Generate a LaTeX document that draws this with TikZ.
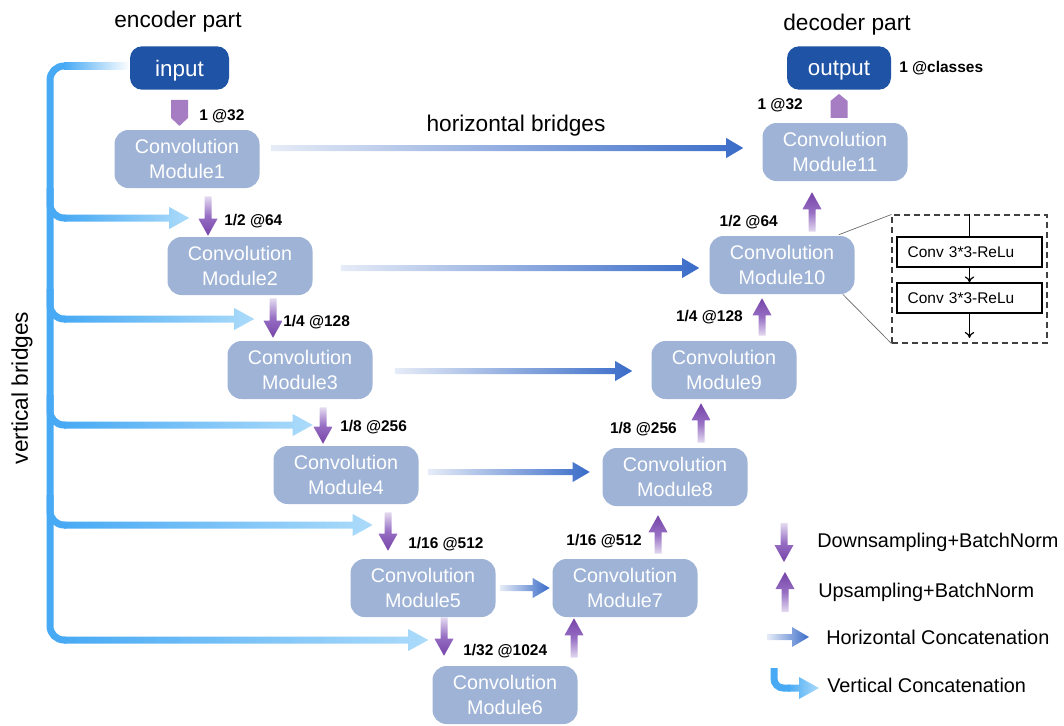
\documentclass[tikz,border=0pt]{standalone}
\usepackage{fontspec}
\setmainfont{Liberation Sans}
\usetikzlibrary{calc,arrows.meta}
\definecolor{modfill}{RGB}{158,179,214}
\definecolor{iofill}{RGB}{31,83,165}
\definecolor{pdark}{RGB}{118,68,168}
\definecolor{pmid}{RGB}{150,110,195}
\definecolor{plight}{RGB}{228,218,240}
\definecolor{pent}{RGB}{166,125,195}
\definecolor{hdark}{RGB}{58,108,200}
\definecolor{hlight}{RGB}{230,236,247}
\definecolor{vbc}{RGB}{72,170,244}
\definecolor{vblight}{RGB}{172,219,250}
% down arrow: #1 tail (top), #2 tip
\newcommand\arrDown[2]{\shade[top color=plight,bottom color=pdark,middle color=pmid]
 ($(#1)+(-3.5,0)$) -- ($(#2)+(-3.5,-17)$) -- ($(#2)+(-9.5,-17)$) -- (#2) --
 ($(#2)+(9.5,-17)$) -- ($(#2)+(3.5,-17)$) -- ($(#1)+(3.5,0)$) -- cycle;}
% up arrow: #1 tail (bottom), #2 tip
\newcommand\arrUp[2]{\shade[bottom color=plight,top color=pdark,middle color=pmid]
 ($(#1)+(-3.5,0)$) -- ($(#2)+(-3.5,17)$) -- ($(#2)+(-9.5,17)$) -- (#2) --
 ($(#2)+(9.5,17)$) -- ($(#2)+(3.5,17)$) -- ($(#1)+(3.5,0)$) -- cycle;}
% horizontal bridge: #1 tail, #2 tip
\newcommand\arrH[2]{\shade[left color=hlight,right color=hdark]
 ($(#1)+(0,-3)$) -- ($(#2)+(-17,-3)$) -- ($(#2)+(-17,-10)$) -- (#2) --
 ($(#2)+(-17,10)$) -- ($(#2)+(-17,3)$) -- ($(#1)+(0,3)$) -- cycle;}
% vertical bridge branch: #1 tail, #2 tip
\newcommand\arrV[2]{\shade[left color=vbc,right color=vblight]
 ($(#1)+(0,-3.5)$) -- ($(#2)+(-20,-3.5)$) -- ($(#2)+(-20,-11)$) -- (#2) --
 ($(#2)+(-20,11)$) -- ($(#2)+(-20,3.5)$) -- ($(#1)+(0,3.5)$) -- cycle;}
\tikzset{
 mod/.style={rectangle, rounded corners=10.5pt, fill=modfill, text=white,
   minimum width=108.75pt, minimum height=43.5pt, inner sep=0pt, align=center,
   font=\fontsize{14.8}{18.5}\selectfont},
 io/.style={rectangle, rounded corners=9pt, fill=iofill, text=white, text depth=0pt,
   minimum height=32.5pt, inner sep=0pt, font=\fontsize{16.8}{19}\selectfont},
 lab/.style={inner sep=0pt, font=\fontsize{11.6}{13}\selectfont\bfseries},
 legtext/.style={inner sep=0pt, anchor=west, font=\fontsize{14.9}{17}\selectfont},
 title/.style={inner sep=0pt, font=\fontsize{17}{20}\selectfont},
 vbline/.style={draw=vbc, line width=5.25pt},
 convbox/.style={draw, line width=0.8pt, minimum height=22.5pt, inner ysep=0pt,
   inner xsep=8pt, text width=92.75pt, align=left, font=\fontsize{11.6}{13}\selectfont},
 thinarr/.style={line width=0.9pt, -{To[length=4.5pt,width=7pt]}},
}
\begin{document}
\begin{tikzpicture}[x=0.75pt,y=-0.75pt]
\useasboundingbox (0,0) rectangle (1064,725);

% titles
\node[title, anchor=base] (enc) at (178,27) {encoder part};
\node[title, anchor=base] (dec) at (847,30) {decoder part};
\node[title, anchor=base] (hb) at (516,131) {horizontal bridges};
\node[title, rotate=90] (vbt) at (22,388) {vertical bridges};

% vertical bridges trunk
\coordinate (vtop) at (66,66);
\coordinate (vbot) at (50,640);
\coordinate (b5s) at (66,640);
\draw[vbline, rounded corners=10.5pt] (vtop) -| (vbot) -- (b5s);

% input / output
\node[io, minimum width=74.25pt] (input) at (179.5,68) {input};
\node[io, minimum width=78pt] (output) at (839,68) {output};
\shade[left color=vbc, right color=white] (64,62.5) rectangle (input.west |- 0,69.5);

% modules
\node[mod] (M1) at (187,159) {Convolution\\Module1};
\node[mod] (M2) at (240,266) {Convolution\\Module2};
\node[mod] (M3) at (300,370) {Convolution\\Module3};
\node[mod] (M4) at (346,475) {Convolution\\Module4};
\node[mod] (M5) at (423,588) {Convolution\\Module5};
\node[mod] (M6) at (505,695) {Convolution\\Module6};
\node[mod] (M7) at (625,588) {Convolution\\Module7};
\node[mod] (M8) at (675,477) {Convolution\\Module8};
\node[mod] (M9) at (724,370) {Convolution\\Module9};
\node[mod] (M10) at (782,265) {Convolution\\Module10};
\node[mod] (M11) at (835,152) {Convolution\\Module11};

% pentagon arrows
\fill[pent] ($(input.south)+(-8.5,10)$) -- ($(input.south)+(8.5,10)$) -- ($(input.south)+(8.5,28)$)
  -- ($(input.south)+(0,36)$) -- ($(input.south)+(-8.5,28)$) -- cycle;
\fill[pent] ($(output.south)+(-8.5,28)$) -- ($(output.south)+(8.5,28)$) -- ($(output.south)+(8.5,11)$)
  -- ($(output.south)+(0,4)$) -- ($(output.south)+(-8.5,11)$) -- cycle;

% down arrows (encoder)
\arrDown{$(M1.south)+(21,8)$}{$(M2.north)+(-32,-1)$}
\arrDown{$(M2.south)+(33,3)$}{$(M3.north)+(-27,-3)$}
\arrDown{$(M3.south)+(23,8)$}{$(M4.north)+(-23,-2)$}
\arrDown{$(M4.south)+(42,8)$}{$(M5.north)+(-35,-8)$}
\arrDown{$(M5.south)+(21,0)$}{$(M6.north)+(-61,-10)$}

% up arrows (decoder)
\arrUp{$(M6.north)+(69,-8)$}{$(M7.south)+(-51,1)$}
\arrUp{$(M7.north)+(33,-5)$}{$(M8.south)+(-17,9)$}
\arrUp{$(M8.north)+(26,-5)$}{$(M9.south)+(-23,4)$}
\arrUp{$(M9.north)+(38,-5)$}{$(M10.south)+(-20,4)$}
\arrUp{$(M10.north)+(30,-4)$}{$(M11.south)+(-23,11)$}

% horizontal bridges
\arrH{$(M1.east)+(11,-11)$}{$(M11.west)+(-19,-4)$}
\arrH{$(M2.east)+(28,2)$}{$(M10.west)+(-10,3)$}
\arrH{$(M3.east)+(22,1)$}{$(M9.west)+(-19,1)$}
\arrH{$(M4.east)+(9,-3)$}{$(M8.west)+(-12.5,-5)$}
\arrH{$(M5.east)+(4,0)$}{$(M7.west)+(-2.5,0)$}

% vertical bridge branches
\draw[vbline, rounded corners=10.5pt] (50,188) |- (66,218);
\arrV{64,218}{$(M2.west)+(22,-48)$}
\draw[vbline, rounded corners=10.5pt] (50,289) |- (66,319);
\arrV{64,319}{$(M3.west)+(27,-51)$}
\draw[vbline, rounded corners=10.5pt] (50,395) |- (66,425);
\arrV{64,425}{$(M4.west)+(39.5,-50)$}
\draw[vbline, rounded corners=10.5pt] (50,495) |- (66,525);
\arrV{64,525}{$(M5.west)+(22.5,-63)$}
\arrV{64,640}{$(M6.west)+(-4,-55)$}

% labels
\node[lab, anchor=west] (l1) at (199,116) {1 @32};
\node[lab, anchor=west] (l2) at (224,221) {1/2 @64};
\node[lab, anchor=west] (l3) at (283,322) {1/4 @128};
\node[lab, anchor=west] (l4) at (340,427) {1/8 @256};
\node[lab, anchor=west] (l5) at (408,544) {1/16 @512};
\node[lab, anchor=west] (l6) at (463,651) {1/32 @1024};
\node[lab, anchor=east] (r1) at (642,541) {1/16 @512};
\node[lab, anchor=east] (r2) at (677,429) {1/8 @256};
\node[lab, anchor=east] (r3) at (743,317) {1/4 @128};
\node[lab, anchor=east] (r4) at (778,222) {1/2 @64};
\node[lab, anchor=east] (r5) at (803,105) {1 @32};
\node[lab, anchor=west] (rc) at (899,68) {1 @classes};

% zoom box
\node[draw=black!75, dashed, dash pattern=on 4.5pt off 3pt, line width=0.8pt,
  minimum width=116.25pt, minimum height=96pt, inner sep=0pt] (zoombox) at (969.5,279) {};
\node[convbox] (c1) at (969.5,252) {Conv 3*3-ReLu};
\node[convbox] (c2) at (969.5,298) {Conv 3*3-ReLu};
\coordinate (zend) at (969.5,338);
\draw[line width=0.9pt] (c1.north |- zoombox.north) -- (c1.north);
\draw[thinarr] (c1.south) -- (c2.north);
\draw[thinarr] (c2.south) -- (zend);
\draw[black!60, line width=0.5pt] ($(M10.north east)+(-16,-1)$) -- (zoombox.north west);
\draw[black!60, line width=0.5pt] ($(M10.south east)+(-12,0)$) -- (zoombox.south west);

% legend
\coordinate (ld1) at (784,523); \coordinate (ld2) at (784,562);
\coordinate (lu1) at (785,612); \coordinate (lu2) at (785,572);
\coordinate (lh1) at (767,637); \coordinate (lh2) at (809,637);
\coordinate (lv0) at (774,668); \coordinate (lv1) at (790,688); \coordinate (lv2) at (819,688);
\arrDown{ld1}{ld2}
\arrUp{lu1}{lu2}
\arrH{lh1}{lh2}
\draw[vbline, rounded corners=7pt] (lv0) |- (lv1);
\arrV{788,688}{lv2}
\node[legtext] (t1) at (817,542) {Downsampling+BatchNorm};
\node[legtext] (t2) at (818,592) {Upsampling+BatchNorm};
\node[legtext] (t3) at (826,637) {Horizontal Concatenation};
\node[legtext] (t4) at (827,685) {Vertical Concatenation};
\end{tikzpicture}
\end{document}
